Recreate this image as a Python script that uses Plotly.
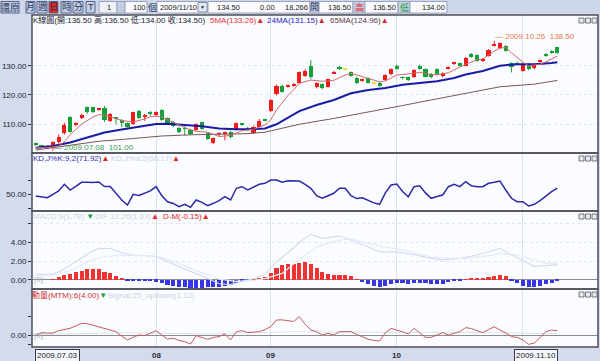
import plotly.graph_objects as go

# ---------------- data ----------------
opens  = [103.4,102.8,101.8,101.8,103.9,106.9,112.6,109.8,112.3,116.0,116.0,115.1,115.7,111.1,112.2,111.5,110.3,110.0,114.5,112.6,
          114.1,113.2,114.8,112.0,110.7,108.9,108.7,108.0,108.0,110.7,106.9,103.5,106.7,106.6,107.5,108.1,110.1,108.9,107.0,109.2,
          111.6,114.5,120.2,123.2,123.0,123.3,124.0,126.5,130.0,122.8,123.6,122.8,127.5,129.7,128.8,127.7,125.9,124.8,125.7,124.0,
          124.2,125.1,127.0,130.0,126.0,126.0,126.0,130.0,128.8,127.2,128.8,126.8,129.0,130.7,130.8,130.0,134.0,133.6,131.6,133.4,
          136.8,135.9,136.7,130.8,131.0,128.2,130.5,129.1,131.4,134.0,135.0,136.5]
highs  = [103.8,103.0,102.8,104.2,106.5,110.5,112.8,110.8,113.6,116.0,116.0,115.5,116.2,113.8,112.5,111.8,110.6,114.3,115.0,113.5,
          114.5,114.4,115.2,112.3,111.0,109.2,109.3,108.3,110.3,110.9,107.2,105.5,107.3,107.5,107.8,110.6,110.4,109.2,109.5,111.8,
          111.9,118.6,123.6,123.5,123.5,124.0,128.0,128.8,132.0,124.3,123.9,125.6,128.2,130.0,129.3,128.0,126.2,125.6,126.0,124.4,
          124.5,127.1,129.1,130.3,126.3,126.3,128.8,130.4,129.1,127.5,129.1,127.7,129.7,131.4,131.1,133.0,134.3,133.9,132.6,135.6,
          138.5,137.9,137.0,131.1,131.3,130.8,130.8,130.5,132.1,134.3,135.3,136.5]
lows   = [102.6,101.8,101.5,101.0,103.5,106.5,107.2,109.3,111.8,113.6,113.8,114.6,110.8,110.8,110.0,109.0,108.9,109.8,111.8,111.2,
          113.0,112.8,111.2,110.0,109.0,107.0,106.2,106.3,107.8,108.0,104.7,103.2,106.0,104.5,105.2,107.9,109.5,107.8,106.8,109.0,
          111.0,114.2,119.8,120.8,122.5,122.8,123.8,126.2,125.5,122.3,122.0,122.5,127.2,128.5,128.2,126.3,123.7,124.5,123.9,123.3,
          122.8,124.8,126.7,128.6,125.3,124.8,125.8,128.6,126.0,125.7,126.7,126.0,128.7,130.3,129.7,129.8,132.7,131.3,131.3,133.1,
          136.5,135.6,134.8,127.7,130.2,128.0,128.5,128.8,131.1,133.0,134.1,134.0]
closes = [103.0,102.3,102.4,103.9,105.8,109.8,107.5,110.1,113.2,114.1,114.1,115.3,111.5,113.5,111.9,110.3,109.2,114.1,112.0,113.0,
          113.4,114.1,111.5,110.3,109.5,107.3,108.5,106.6,110.0,108.4,105.0,105.2,107.0,107.3,105.5,110.3,109.9,108.1,109.2,111.1,
          111.4,118.3,123.1,121.1,123.2,123.5,127.7,128.3,126.0,124.0,122.5,125.3,127.7,128.8,128.8,126.6,124.0,125.3,124.2,124.0,
          123.2,126.8,128.8,128.9,125.8,125.1,128.5,128.9,126.3,126.0,127.0,127.4,129.4,130.9,130.0,132.7,133.0,131.6,132.3,135.3,
          137.4,137.6,135.1,129.7,130.5,130.5,128.8,130.2,131.8,133.3,134.4,134.5]

ma5_idx  = [0,2,4,5,6,8,10,11,12,13,15,17,19,20,21,22,24,26,28,30,32,34,36,38,40,41,42,43,44,45,46,48,50,52,54,55,57,59,60,61,
            63,65,67,69,70,72,73,75,77,78,79,80,81,82,83,84,85,86,87,88,89,90,91]
ma5_val  = [102.0,102.0,102.6,104.0,106.5,110.0,112.5,113.3,113.0,112.6,111.3,110.8,111.8,112.6,112.8,112.5,110.7,108.8,107.6,107.3,
            105.8,106.2,107.8,108.3,109.8,111.5,114.9,117.5,119.8,121.8,124.0,125.1,124.7,125.0,126.8,127.4,126.2,125.0,124.5,124.8,
            126.8,127.2,127.7,127.0,126.9,127.6,128.5,130.5,132.0,132.3,133.6,135.0,136.0,136.2,134.4,132.8,131.2,130.0,130.2,130.5,
            131.3,132.3,133.26]
ma24_idx = [0,3,6,9,12,15,18,21,23,26,29,32,35,38,40,42,44,46,49,52,55,58,61,64,67,70,73,75,78,81,84,87,90,91]
ma24_val = [102.0,102.6,103.8,105.6,107.2,108.2,109.1,110.1,110.2,109.8,109.3,108.6,108.3,108.4,108.6,110.0,112.3,114.5,116.6,118.3,
            120.6,121.7,122.4,123.5,124.1,124.7,125.8,127.0,128.2,130.0,130.5,130.5,130.9,131.15]
ma65_idx = [0,4,8,11,15,18,22,27,32,37,40,43,46,52,58,64,69,75,81,87,91]
ma65_val = [101.2,102.3,103.4,104.2,104.8,105.4,106.0,106.4,106.6,106.8,107.3,108.6,110.0,112.0,114.1,116.4,118.3,120.6,122.8,123.7,124.96]

kd_k = [44,41,38,50,62,85,65,78,92,92,91,93,77,77,55,30,12.6,50,46,55,
        62,77,45,24,18,6.6,15,4.5,30,22,10,18.5,28,41.6,30,71,76.6,65,75,85,
        88.5,100,100,92,97.7,97.7,96.5,85,71,45,36,45,53.5,71,71,45,35,38,30,20,
        15,55,82.5,86,60,41.6,76.6,80,55,36,42,47.5,76.6,85,76.6,94,80,76.6,76.6,88.5,
        92,96.5,65,36,24,24,9,15,28,45,59,71.92]

macd_hist = [0.0,0.0,0.0,0.1,0.3,0.5,0.65,0.85,1.0,1.15,1.22,1.22,0.9,0.7,0.45,0.2,-0.05,-0.05,-0.1,-0.1,
             -0.1,-0.2,-0.3,-0.5,-0.6,-0.72,-0.75,-0.8,-0.82,-0.82,-0.78,-0.72,-0.7,-0.65,-0.55,-0.35,-0.18,-0.05,0.05,0.15,
             0.3,0.7,1.3,1.55,1.65,1.75,1.85,1.9,1.75,1.3,0.9,0.6,0.55,0.55,0.55,0.4,0.05,-0.25,-0.45,-0.62,
             -0.7,-0.65,-0.45,-0.3,-0.35,-0.45,-0.35,-0.35,-0.35,-0.45,-0.45,-0.38,-0.25,-0.1,-0.05,0.02,0.18,0.12,0.12,0.28,
             0.45,0.52,0.38,-0.1,-0.36,-0.6,-0.7,-0.7,-0.6,-0.45,-0.3,-0.15]
dif_idx = [0,3,5,8,10,11,13,15,17,21,23,26,30,32,34,36,38,40,42,44,46,48,50,53,55,58,60,63,66,69,71,74,77,80,81,83,85,87,89,91]
dif_val = [0.6,0.6,1.2,2.3,3.1,3.35,3.35,2.9,2.66,2.5,1.95,1.15,0.18,-0.4,-0.5,-0.2,0.15,0.6,1.95,2.9,
           4.0,4.86,4.4,4.7,4.25,3.54,3.0,3.0,2.7,2.3,2.13,2.3,2.66,3.2,3.37,2.66,2.1,1.42,1.5,1.63]
sig_idx = [0,3,6,8,10,12,15,21,24,28,32,35,38,40,43,46,49,52,55,58,61,64,67,69,72,75,77,80,81,84,87,89,91]
sig_val = [0.5,0.55,1.0,1.6,2.2,2.5,2.65,2.55,2.0,1.0,0.1,-0.15,-0.05,0.15,0.7,2.2,3.5,4.1,4.4,3.9,3.5,3.2,2.7,2.45,2.3,2.3,2.45,
           2.66,2.84,2.66,2.13,1.77,1.78]

mtm = [0,2.2,1.8,1.85,4,5.2,6.2,8.5,10.8,10.5,9,7.1,6,4.6,3.1,-1,-4.6,-2,0,-0.6,
       2,4,0,-3.7,-3,-5,-6.2,-8.3,-0.6,-2.5,-4,-2.2,-1.5,0.9,-4.6,3,4,2.2,2.5,3.1,
       5,7.7,13.9,14,13.3,12.5,17,10,4.6,3.1,0,1.5,0,3.1,3.1,3.1,0.6,-1.5,-4,-5,
       -5.5,2,6.2,4.5,3.1,0.9,6.2,2,-2.2,-2.2,0,2.2,0,1.5,3.1,6.8,6,4,2.2,5,
       7.7,4.6,2,-1.5,-2.2,-4.6,-8.6,-7.5,-2.2,3.1,4.6,4.0]
mtm_sig_idx = [0,15,30,45,60,75,91]
mtm_sig_val = [0.5,2.0,1.0,3.0,2.5,2.5,1.12]

month_idx  = [21, 41, 63, 85]
month_text = ["08", "09", "10", ""]
first_date, last_date = "2009.07.03", "2009.11.10"
high_date, low_date = "2009.10.26", "2009.07.08"
quote_last, quote_change, quote_volume = "134.50", "0.00", "18,266"

n = len(closes)
idx = list(range(n))

# ---------------- helpers (pixel -> paper) ----------------
W, H = 600, 361
L, R, T, B = 32, 598, 15, 347
def PX(x): return (x - L) / (R - L)
def PY(y): return (B - y) / (B - T)

FONT = "Liberation Sans, DejaVu Sans, Noto Sans CJK TC, sans-serif"
FS = 8
UP, DN, DOJI = "#f01c1c", "#16a03a", "#e6e23c"

fig = go.Figure()

# ---------------- main panel: candles + MAs ----------------
cols = [DOJI if o == c else (UP if c > o else DN) for o, c in zip(opens, closes)]
for colr in (UP, DN, DOJI):
    wx, wy = [], []
    for i in idx:
        if cols[i] == colr:
            wx += [i, i, None]
            wy += [lows[i], highs[i], None]
    fig.add_trace(go.Scatter(x=wx, y=wy, mode="lines", line=dict(color=colr, width=1),
                             xaxis="x", yaxis="y", hoverinfo="skip"))
fig.add_trace(go.Bar(x=idx, y=[max(abs(c - o), 0.22) for o, c in zip(opens, closes)],
                     base=[min(o, c) for o, c in zip(opens, closes)], width=0.72,
                     marker=dict(color=cols, line=dict(width=0)), xaxis="x", yaxis="y"))
fig.add_trace(go.Scatter(x=ma65_idx, y=ma65_val, mode="lines", line=dict(color="#7a5656", width=1),
                         xaxis="x", yaxis="y"))
fig.add_trace(go.Scatter(x=ma24_idx, y=ma24_val, mode="lines", line=dict(color="#1a1aa6", width=2),
                         xaxis="x", yaxis="y"))
fig.add_trace(go.Scatter(x=ma5_idx, y=ma5_val, mode="lines", line=dict(color="#d06a6a", width=1),
                         xaxis="x", yaxis="y"))

# ---------------- KD ----------------
fig.add_trace(go.Scatter(x=idx, y=kd_k, mode="lines", line=dict(color="#2a2aa8", width=1.5),
                         xaxis="x2", yaxis="y2"))

# ---------------- MACD ----------------
fig.add_trace(go.Bar(x=idx, y=macd_hist, width=0.72,
                     marker=dict(color=["#f03232" if v >= 0 else "#3636e6" for v in macd_hist], line=dict(width=0)),
                     xaxis="x3", yaxis="y3"))
fig.add_trace(go.Scatter(x=dif_idx, y=dif_val, mode="lines", line=dict(color="#d2dcee", width=1.2),
                         xaxis="x3", yaxis="y3"))
fig.add_trace(go.Scatter(x=sig_idx, y=sig_val, mode="lines", line=dict(color="#e4ebf6", width=1.2),
                         xaxis="x3", yaxis="y3"))

# ---------------- MTM ----------------
fig.add_trace(go.Scatter(x=mtm_sig_idx, y=mtm_sig_val, mode="lines", line=dict(color="#dce3ef", width=1),
                         xaxis="x4", yaxis="y4"))
fig.add_trace(go.Scatter(x=idx, y=mtm, mode="lines", line=dict(color="#c85a5a", width=1),
                         xaxis="x4", yaxis="y4"))

# ---------------- axes ----------------
panels = [(T, 153), (153, 211), (211, 289), (289, B)]
xr = [-0.65, 98.1]
tickfont = dict(family=FONT, size=FS, color="#1e1e2e")
for k, (top, bot) in enumerate(panels):
    sfx = "" if k == 0 else str(k + 1)
    fig.layout["xaxis" + sfx] = dict(domain=[0, 1], range=xr, anchor="y" + sfx, tickvals=month_idx,
                                     showticklabels=False, ticks="", automargin=False,
                                     showgrid=True, gridcolor="#dce1ea", gridwidth=1, zeroline=False,
                                     showline=False, fixedrange=True)
    fig.layout["yaxis" + sfx] = dict(domain=[PY(bot), PY(top)], anchor="x" + sfx, ticks="outside", ticklen=3,
                                     tickcolor="#333", tickfont=tickfont, showline=False, fixedrange=True,
                                     automargin=False)

fig.layout.yaxis.update(range=[100.2, 147.3], tickvals=[110, 120, 130], ticktext=["110.00", "120.00", "130.00"],
                        showgrid=True, gridcolor="#e0e6f0", griddash="dot", zeroline=False)
fig.layout.yaxis2.update(range=[-8.4, 194.4], tickvals=[0, 50, 100], ticktext=["", "50.00", ""],
                         showgrid=False, zeroline=False)
fig.layout.yaxis3.update(range=[-0.96, 7.34], tickvals=[0, 2, 4, 6], ticktext=["0.00", "2.00", "4.00", ""],
                         showgrid=True, gridcolor="#e0e6f0", griddash="dot",
                         zeroline=True, zerolinecolor="#8c8c8c", zerolinewidth=1)
fig.layout.yaxis4.update(range=[-11.1, 42.6], tickvals=[-8.5, 0, 17], ticktext=["", "0.00", ""],
                         showgrid=False, zeroline=True, zerolinecolor="#8c8c8c", zerolinewidth=1)

shapes = []
ann = []

def box(x0, x1, y0, y1, fill, line="#9aa4ba", lw=1):
    shapes.append(dict(type="rect", xref="paper", yref="paper", x0=PX(x0), x1=PX(x1), y0=PY(y1), y1=PY(y0),
                       fillcolor=fill, line=dict(color=line, width=lw)))

def label(x, y, s, color, size=FS, anchor="left"):
    ann.append(dict(x=PX(x), y=PY(y), xref="paper", yref="paper", text=s, showarrow=False, borderpad=0,
                    font=dict(family=FONT, size=size, color=color), xanchor=anchor, yanchor="middle"))

# toolbar
shapes.append(dict(type="rect", xref="paper", yref="paper", x0=PX(0), x1=PX(600), y0=PY(14), y1=PY(0),
                   fillcolor="#cdd6ea", line=dict(width=0), layer="below"))
buttons = [("還原", 1, 19), ("月", 26, 35), ("週", 37, 47), ("日", 49, 58), ("時", 61, 71), ("分", 73, 83), ("T", 86, 95)]
for lab, x0, x1 in buttons:
    box(x0, x1, 1.5, 13, "#e8251f" if lab == "日" else "#c3cde4", "#56648a")
    label((x0 + x1) / 2, 7.5, lab, "#26365a", FS + 1, "center")

# input fields and quote cells
box(99, 117, 1.5, 13, "#eef0f6"); label(112, 7.5, "1", "#1a1a1a", 7.5, "right")
box(117, 125, 1.5, 13, "#c3cde4")
box(125, 147, 1.5, 13, "#fbfbfd"); label(146.5, 7.5, "100", "#1a1a1a", 7.5, "right")
label(152, 7.5, "個", "#26365a", FS + 1, "center")
box(157, 207, 1.5, 13, "#fbfbfd"); label(159, 7.5, last_date.replace(".", "/"), "#1a1a1a", 7.5)
box(198, 207, 2.5, 12, "#e4e8f2", "#8a94aa")
label(202.5, 7.5, "▼", "#222", 5, "center")
box(208, 310, 1.5, 13, "#fbfbfd")
label(241, 7.5, quote_last, "#1a1a1a", 7.5, "right")
label(276, 7.5, quote_change, "#1a1a1a", 7.5, "right")
label(309, 7.5, quote_volume, "#1a1a1a", 7.5, "right")
cells = [(310, 319, "開", "#26365a", "#c3cde4"), (319, 353, "%.2f" % opens[-1], "#1a1a1a", "#fbfbfd"),
         (353, 365, "高", "#e02828", "#c3cde4"), (365, 398, "%.2f" % highs[-1], "#1a1a1a", "#fbfbfd"),
         (398, 410, "低", "#18a038", "#c3cde4"), (410, 447, "%.2f" % lows[-1], "#1a1a1a", "#fbfbfd")]
for x0, x1, s, colr, fill in cells:
    box(x0, x1, 1.5, 13, fill)
    if fill == "#c3cde4":
        label((x0 + x1) / 2, 7.5, s, colr, FS + 1, "center")
    else:
        label(x1 - 1.5, 7.5, s, colr, 7.5, "right")

# panel frames & window icons
for top, bot in panels:
    shapes.append(dict(type="rect", xref="paper", yref="paper", x0=PX(L), x1=PX(R), y0=PY(bot), y1=PY(top),
                       line=dict(color="#4e4e58", width=1.5)))
    for ix in (579, 585.5, 592):
        box(ix, ix + 5, top + 3, top + 8, "#e6e9f0", "#5a5a66", 0.8)

RED_T = "#e02424"
label(32, 20.5, "K線圖(開:%.2f 高:%.2f 低:%.2f 收:%.2f)" % (opens[-1], highs[-1], lows[-1], closes[-1]), "#1c1c30")
label(209, 20.5, "5MA(%.2f)<span style='color:%s'>▲</span>" % (ma5_val[-1], RED_T), "#e03434")
label(266, 20.5, "24MA(%.2f)<span style='color:%s'>▲</span>" % (ma24_val[-1], RED_T), "#2424c0")
label(329, 20.5, "65MA(%.2f)<span style='color:%s'>▲</span>" % (ma65_val[-1], RED_T), "#5a4040")
label(32, 158.5, "KD,J%%K:9,2(%.2f)<span style='color:%s'>▲</span>" % (kd_k[-1], RED_T), "#3030b0")
label(110, 158.5, "KD,J%%d:2(66.17)<span style='color:%s'>▲</span>" % RED_T, "#c8d2e6")
label(32, 216.5, "MACD:9(%.2f)<span style='color:#18a038'> ▼</span>" % sig_val[-1], "#c8d2e6")
label(94, 216.5, "DIF:12,26(%.2f)<span style='color:%s'>▲</span>" % (dif_val[-1], RED_T), "#c8d2e6")
label(162, 216.5, "D-M(%.2f)▲" % macd_hist[-1], RED_T)
label(31, 295, "動量(MTM):6(%.2f)<span style='color:#18a038'>▼</span>" % mtm[-1], "#d03434")
label(107, 295, "Signal:25_updown(%.2f)" % mtm_sig_val[-1], "#c8d2e6")

# zero-line markers
for yr in ("y3", "y4"):
    ann.append(dict(x=PX(33), y=0, xref="paper", yref=yr, text="[0]", showarrow=False, borderpad=0,
                    font=dict(family=FONT, size=FS, color="#a8b0c2"), xanchor="left", yanchor="middle"))

# extreme markers
hi_i = highs.index(max(highs))
lo_i = lows.index(min(lows))
ann.append(dict(x=hi_i, y=highs[hi_i], xref="x", yref="y", text="— %s  %.2f" % (high_date, highs[hi_i]),
                showarrow=False, xanchor="left", yanchor="middle", xshift=0, yshift=4, borderpad=0,
                font=dict(family=FONT, size=FS, color="#e27a48")))
ann.append(dict(x=lo_i, y=lows[lo_i], xref="x", yref="y", text="— %s  %.2f" % (low_date, lows[lo_i]),
                showarrow=False, xanchor="left", yanchor="middle", xshift=0, yshift=3, borderpad=0,
                font=dict(family=FONT, size=FS, color="#3aa24e")))

# time-axis labels
for i, s in zip(month_idx, month_text):
    if s:
        ann.append(dict(x=i, y=PY(355), xref="x4", yref="paper", text="<b>%s</b>" % s, showarrow=False,
                        xanchor="center", yanchor="middle", borderpad=0,
                        font=dict(family=FONT, size=FS, color="#2a2a36")))
ann.append(dict(x=0, y=PY(355), xref="x4", yref="paper", text=first_date, showarrow=False, xanchor="left",
                yanchor="middle", xshift=-1, bordercolor="#3a3a46", borderwidth=1, borderpad=1, bgcolor="#f4f6fb",
                font=dict(family=FONT, size=FS, color="#1c1c2a")))
ann.append(dict(x=n - 1, y=PY(355), xref="x4", yref="paper", text=last_date, showarrow=False, xanchor="right",
                yanchor="middle", xshift=1, bordercolor="#3a3a46", borderwidth=1, borderpad=1, bgcolor="#f4f6fb",
                font=dict(family=FONT, size=FS, color="#1c1c2a")))

fig.update_layout(width=W, height=H, margin=dict(l=L, r=W - R, t=T, b=H - B, autoexpand=False),
                  paper_bgcolor="#d3dbec", plot_bgcolor="#fbfcff", showlegend=False,
                  barmode="overlay", bargap=0, font=dict(family=FONT, size=FS),
                  shapes=shapes, annotations=ann, hovermode=False)

fig.write_html("out.html", config={"displayModeBar": False},
               post_script="document.body.style.margin='0';document.body.style.padding='0';"
                           "document.body.style.overflow='hidden';")
